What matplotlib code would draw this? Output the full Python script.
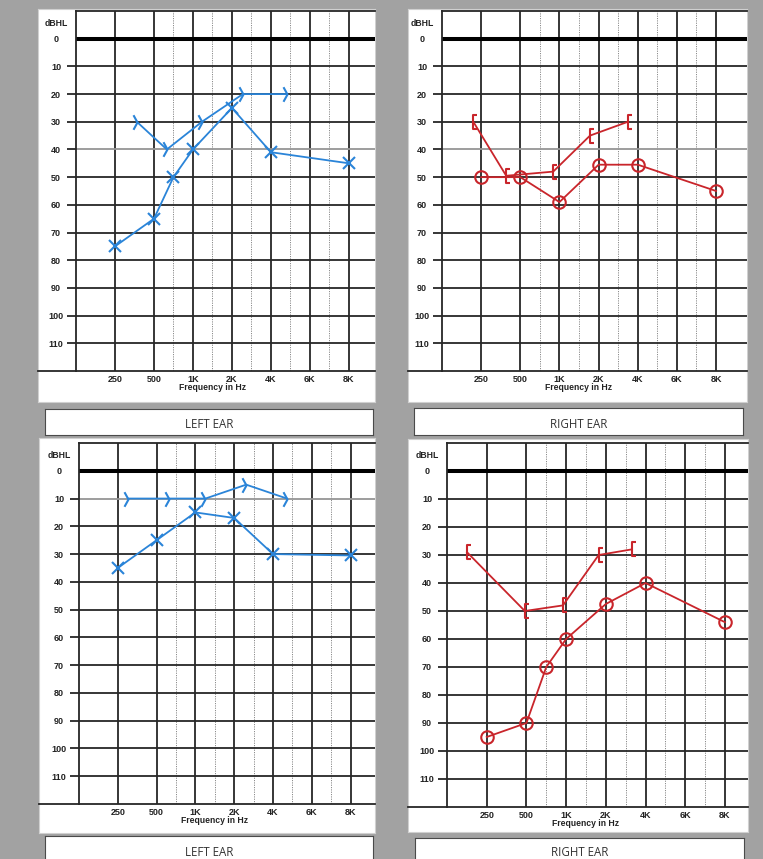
import matplotlib
matplotlib.use('Agg')
import matplotlib.pyplot as plt
import numpy as np
from matplotlib.path import Path
from matplotlib.ticker import NullLocator

# frequency axis of the audiogram form: octaves equally spaced, 6K halfway 4K-8K
scale_hz = [125, 250, 500, 1000, 2000, 4000, 6000, 8000, 10000, 12000]
scale_pos = [-1, 0, 1, 2, 3, 4, 5, 6, 7, 8]

freq_ticks = [250, 500, 1000, 2000, 4000, 6000, 8000]
freq_labels = ['250', '500', '1K', '2K', '4K', '6K', '8K']
mid_freqs = [750, 1500, 3000, 5000, 7000]
db_ticks = list(range(0, 120, 10))

# top left - left ear (X = air, > = bone)
tl_air_hz = [250, 500, 750, 1000, 2000, 4000, 8000]
tl_air_db = [75, 65, 50, 40, 25, 41, 45]
tl_bone_hz = [390, 665, 1230, 2560, 4820]
tl_bone_db = [30, 40, 30, 20, 20]

# top right - right ear (O = air, [ = bone)
tr_air_hz = [250, 500, 1000, 2000, 4000, 8000]
tr_air_db = [50, 50, 59, 45.5, 45.5, 55]
tr_bone_hz = [225, 410, 920, 1780, 3500]
tr_bone_db = [30, 49.5, 48, 35, 30]

# bottom left - left ear
bl_air_hz = [250, 500, 1000, 2000, 4000, 8000]
bl_air_db = [35, 25, 15, 17, 30, 30.5]
bl_bone_hz = [315, 665, 1260, 2620, 4720]
bl_bone_db = [10, 10, 10, 5, 10]

# bottom right - right ear
br_air_hz = [250, 500, 750, 1000, 2000, 4000, 8000]
br_air_db = [95, 90, 70, 60, 47.5, 40, 54]
br_bone_hz = [188, 490, 960, 1820, 3300]
br_bone_db = [29, 50, 48, 30, 28]

W, H = 763, 859
BLUE = '#2a84d8'
RED = '#c9252b'
GRID = '#262626'

def to_pos(f):
    return np.interp(f, scale_hz, scale_pos)

def to_hz(p):
    return np.interp(p, scale_pos, scale_hz)

bone_left = Path([(-0.55, 1), (0, 0), (-0.55, -1)],
                 [Path.MOVETO, Path.LINETO, Path.LINETO])
bone_right = Path([(0.55, 1), (0, 1), (0, -1), (0.55, -1)],
                  [Path.MOVETO, Path.LINETO, Path.LINETO, Path.LINETO])

def px_rect(x0, y0, x1, y1):
    return [x0 / W, 1 - y1 / H, (x1 - x0) / W, (y1 - y0) / H]

fig = plt.figure(figsize=(W / 100, H / 100), dpi=100, facecolor='#a2a2a2')

def audiogram(panel, grid, label, label_y, xmax_pos, air_hz, air_db, bone_hz, bone_db,
              color, air_mk, bone_mk, faint, ear):
    bg = fig.add_axes(px_rect(*panel))
    bg.set_facecolor('white')
    bg.set_xticks([])
    bg.set_yticks([])
    for s in bg.spines.values():
        s.set_color('#d0d0d0')
        s.set_linewidth(0.8)

    ax = fig.add_axes(px_rect(*grid))
    ax.set_facecolor('white')
    ax.set_xscale('function', functions=(to_pos, to_hz))
    ax.set_xlim(to_hz(-1), to_hz(xmax_pos))
    ax.set_ylim(120, -10)

    for f in mid_freqs:
        ax.axvline(f, color='#8a8a8a', lw=0.7, ls=(0, (1.2, 1.2)), zorder=1)
    for f in freq_ticks:
        ax.axvline(f, color=GRID, lw=1.3, zorder=1)
    for d in db_ticks[1:]:
        ax.axhline(d, color='#959595' if d in faint else GRID, lw=1.3, zorder=1)
    ax.axhline(0, color='black', lw=2.9, zorder=2)

    ax.spines['right'].set_visible(False)
    for side in ['left', 'top', 'bottom']:
        ax.spines[side].set_color(GRID)
        ax.spines[side].set_linewidth(1.3)
    ext = (panel[0] - grid[0]) / (grid[2] - grid[0])
    ax.plot([ext, 0], [0, 0], transform=ax.transAxes, clip_on=False, color=GRID, lw=1.3)

    ax.set_xticks(freq_ticks, freq_labels)
    ax.set_yticks(db_ticks, [str(d) for d in db_ticks])
    ax.xaxis.set_minor_locator(NullLocator())
    ax.yaxis.set_minor_locator(NullLocator())
    ax.tick_params(axis='x', length=0, pad=2.6, labelsize=6.5, labelcolor='#222')
    ax.tick_params(axis='y', length=6.5, width=1.3, color=GRID, pad=7.9,
                   labelsize=6.5, labelcolor='#222')
    for lab in ax.get_xticklabels() + ax.get_yticklabels():
        lab.set_fontweight('bold')
        lab.set_family('Liberation Sans')
    for lab in ax.get_yticklabels():
        lab.set_ha('center')
    ax.yaxis.get_major_ticks()[0].tick1line.set_visible(False)

    ax.annotate('dBHL', xy=(0, -5.5), xycoords=('axes fraction', 'data'),
                xytext=(-14.4, 0), textcoords='offset points', ha='center', va='center',
                fontsize=6.2, fontweight='bold', family='Liberation Sans', color='#222')
    ax.annotate('Frequency in Hz', xy=(1500, 0), xycoords=('data', 'axes fraction'),
                xytext=(0, -12.2), textcoords='offset points', ha='center', va='center',
                fontsize=6.2, fontweight='bold', family='Liberation Sans', color='#222')

    ax.plot(air_hz, air_db, color=color, lw=1.3, marker=air_mk, ms=9, mew=1.5,
            mfc='none', zorder=5, clip_on=False)
    ax.plot(bone_hz, bone_db, color=color, lw=1.3, marker=bone_mk, ms=10.5, mew=1.5,
            mfc='none', zorder=5, clip_on=False)

    lb = fig.add_axes(px_rect(*label))
    lb.set_facecolor('white')
    lb.set_xticks([])
    lb.set_yticks([])
    for s in lb.spines.values():
        s.set_color('#4a4a4a')
        s.set_linewidth(0.8)
    fig.text((label[0] + label[2]) / 2 / W, 1 - label_y / H, ear, ha='center', va='center',
             fontsize=8.3, family='Open Sans', color='#333')

audiogram((38, 9, 375, 402), (76, 11, 375, 371), (45, 409, 373, 435), 424, 6.67,
          tl_air_hz, tl_air_db, tl_bone_hz, tl_bone_db, BLUE, 'x', bone_left, [40], 'LEFT EAR')
audiogram((408, 9, 747, 402), (442, 11, 747, 371), (414, 408, 743, 435), 424, 6.79,
          tr_air_hz, tr_air_db, tr_bone_hz, tr_bone_db, RED, 'o', bone_right, [40], 'RIGHT EAR')
audiogram((39, 438, 375, 833), (79, 443, 375, 804), (45, 836, 373, 872), 852, 6.63,
          bl_air_hz, bl_air_db, bl_bone_hz, bl_bone_db, BLUE, 'x', bone_left, [10], 'LEFT EAR')
audiogram((408, 439, 748, 832), (447, 443, 748, 807), (415, 838, 744, 872), 852, 6.58,
          br_air_hz, br_air_db, br_bone_hz, br_bone_db, RED, 'o', bone_right, [], 'RIGHT EAR')

fig.savefig('out.png', dpi=100, facecolor=fig.get_facecolor())
